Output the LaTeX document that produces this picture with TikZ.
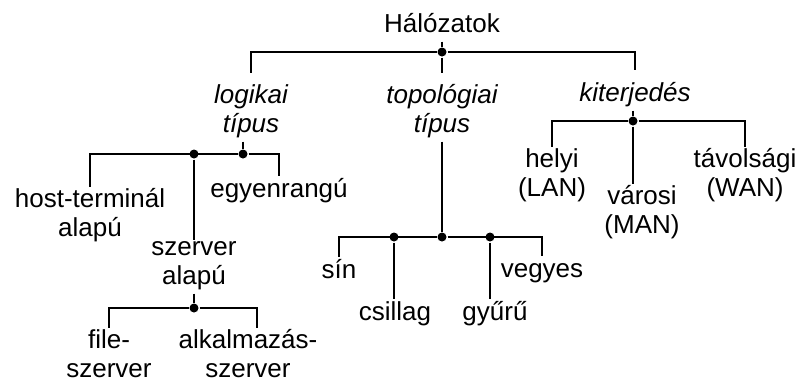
\documentclass[tikz,border=0pt]{standalone}
\usepackage{fontspec}
\setmainfont{Liberation Sans}
\usetikzlibrary{positioning}

\begin{document}
\begin{tikzpicture}[x=0.5pt,y=-0.5pt,line width=1pt,
                    every node/.style={font=\fontsize{13}{14.5}\selectfont},
                    main node/.style={align=center,anchor=base,inner xsep=1pt,inner ysep=0pt,
                                      execute at begin node=\strut,execute at end node=\strut},
                    kind node/.style={main node,font=\fontsize{13}{14.5}\selectfont\itshape},
                    elbow/.style={to path={-| (\tikztotarget)}},
                    to kind/.style={elbow,shorten >=5pt},
                    dot/.style={circle,fill,inner sep=0pt,minimum size=4.5pt}]
  \useasboundingbox (0,0) rectangle (801,381);

  \node[main node] (root) at (442,32) {Hálózatok};
  \node[kind node] (log) at (251,132) {logikai\\típus};
  \node[kind node] (topo) at (442,132) {topológiai\\típus};
  \node[kind node] (kit) at (635,101) {kiterjedés};
  \node[main node] (host) at (90,236) {host-terminál\\alapú};
  \node[main node] (egy) at (279,197) {egyenrangú};
  \node[main node] (szerv) at (194,284) {szerver\\alapú};
  \node[main node] (file) at (109,377) {file-\\szerver};
  \node[main node] (alk) at (248,377) {alkalmazás-\\szerver};
  \node[main node] (sin) at (339,278) {sín};
  \node[main node] (csillag) at (395,320) {csillag};
  \node[main node] (gyuru) at (495,320) {gyűrű};
  \node[main node] (vegyes) at (542,277) {vegyes};
  \node[main node] (helyi) at (552,196) {helyi\\(LAN)};
  \node[main node] (varosi) at (642,233) {városi\\(MAN)};
  \node[main node] (tavol) at (745,196) {távolsági\\(WAN)};

  % junctions
  \node[dot] (j0) at (442,52) {};
  \node[dot] (j1) at (243,154) {};
  \node[dot] (j1b) at (194,154) {};
  \node[dot] (j2) at (633,121) {};
  \node[dot] (j3) at (442,237) {};
  \node[dot] (j3a) at (394,237) {};
  \node[dot] (j3b) at (490,237) {};
  \node[dot] (j4) at (194,308) {};

  \path
    (root) edge (j0)
    (j0) edge[to kind] (log)
         edge[shorten >=5pt] (topo)
         edge[to kind] (kit)
    (j1 |- log.south) edge (j1)
    (j1) edge[elbow] (host)
         edge[elbow] (egy)
    (j1b) edge (szerv)
    (szerv) edge (j4)
    (j4) edge[elbow] (file)
         edge[elbow] ([xshift=4.5pt]alk.north)
    (topo) edge (j3)
    (j3) edge[elbow] (sin)
         edge[elbow] (vegyes)
    (j3a) edge (j3a |- csillag.north)
    (j3b) edge (j3b |- gyuru.north)
    (j2 |- kit.south) edge (j2)
    (j2) edge[elbow] (helyi)
         edge[elbow] (tavol)
         edge (j2 |- varosi.north);
\end{tikzpicture}
\end{document}
